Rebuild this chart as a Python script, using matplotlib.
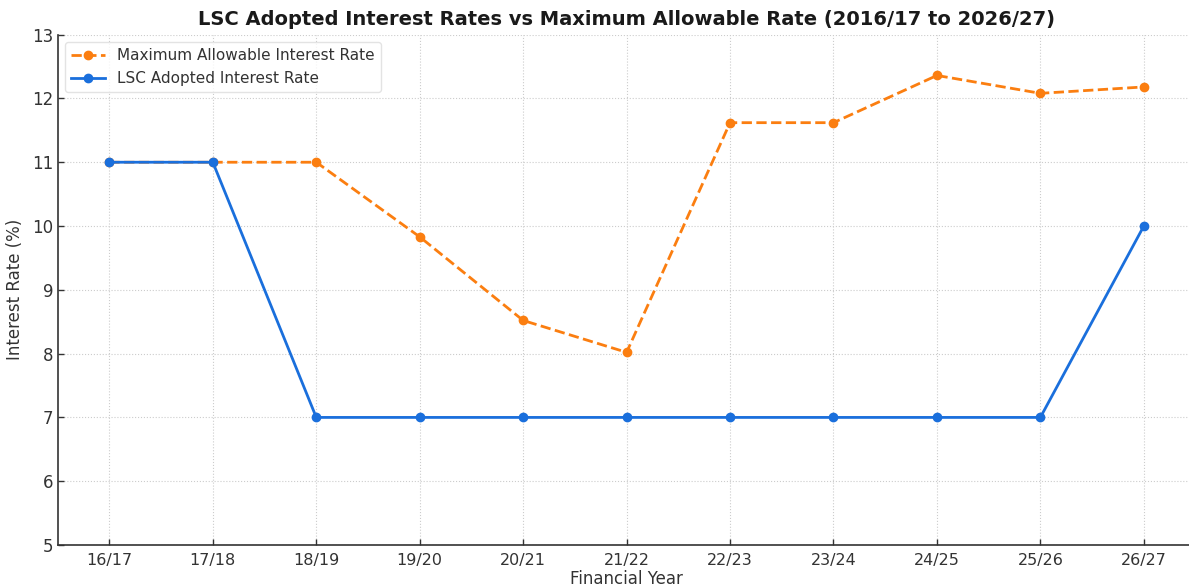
import matplotlib
matplotlib.use("Agg")
import matplotlib.pyplot as plt

# Financial years and interest rates (%)
years = ["16/17", "17/18", "18/19", "19/20", "20/21", "21/22",
         "22/23", "23/24", "24/25", "25/26", "26/27"]
max_allowable = [11.0, 11.0, 11.0, 9.83, 8.52, 8.02,
                 11.62, 11.62, 12.36, 12.08, 12.18]
lsc_adopted = [11.0, 11.0, 7.0, 7.0, 7.0, 7.0,
               7.0, 7.0, 7.0, 7.0, 10.0]

text_color = "#333333"
plt.rcParams["font.family"] = ["DejaVu Sans"]

fig = plt.figure(figsize=(11.89, 5.88), dpi=100)
ax = fig.add_axes([0.0485, 0.0731, 0.957, 0.868])

x = list(range(len(years)))
ax.plot(x, max_allowable, color="#fb7e10", linestyle="--", linewidth=2.0,
        marker="o", markersize=6, label="Maximum Allowable Interest Rate")
ax.plot(x, lsc_adopted, color="#1a6fdc", linestyle="-", linewidth=2.0,
        marker="o", markersize=6, label="LSC Adopted Interest Rate")

ax.set_xticks(x)
ax.set_xticklabels(years)
ax.set_xlim(-0.5, len(years) - 0.5)
ax.set_ylim(5, 13)
ax.set_yticks(range(5, 14))

ax.tick_params(axis="both", direction="in", length=4, width=1, color="#333333")
ax.tick_params(axis="x", labelsize=11.5, labelcolor=text_color, pad=6)
ax.tick_params(axis="y", labelsize=12, labelcolor=text_color, pad=3)
ax.set_xlabel("Financial Year", fontsize=12, color=text_color, labelpad=1)
ax.set_ylabel("Interest Rate (%)", fontsize=12, color=text_color, labelpad=6)
ax.set_title("LSC Adopted Interest Rates vs Maximum Allowable Rate (2016/17 to 2026/27)",
             fontsize=14, fontweight="bold", color="#1a1a1a", pad=7)

ax.grid(True, linestyle=":", linewidth=0.8, color="#cccccc")
ax.set_axisbelow(True)
for side in ("top", "right"):
    ax.spines[side].set_visible(False)
for side in ("left", "bottom"):
    ax.spines[side].set_color("#333333")
    ax.spines[side].set_linewidth(1.2)

leg = ax.legend(loc="upper left", fontsize=11, frameon=True,
                borderaxespad=0.5, handlelength=2.2)
leg.get_frame().set_edgecolor("#dddddd")
for t in leg.get_texts():
    t.set_color(text_color)

fig.savefig("out.png", dpi=100)
